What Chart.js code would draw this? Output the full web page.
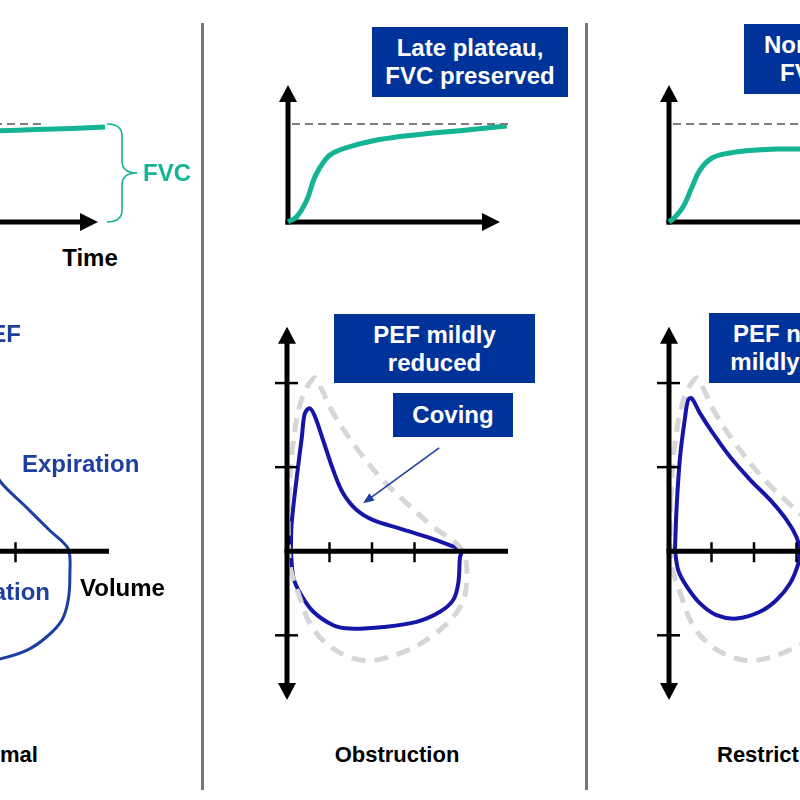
<!DOCTYPE html>
<html>
<head>
<meta charset="utf-8">
<title>Spirometry patterns</title>
<script src="https://cdn.jsdelivr.net/npm/chart.js@4.4.1/dist/chart.umd.min.js"></script>
<style>
  body { margin:0; width:800px; height:800px; overflow:hidden; position:relative; background:#fff;
         font-family:"Liberation Sans", Arial, sans-serif; }
  canvas { position:absolute; }
  .sep { position:absolute; top:23px; height:767px; width:3px; background:#777; }
  .lbl { position:absolute; font-weight:bold; font-size:24px; line-height:24px; white-space:nowrap; }
  .box { position:absolute; background:#003399; color:#fff; font-weight:bold; font-size:24px; line-height:28px;
         display:flex; align-items:center; justify-content:center; text-align:center; white-space:nowrap; }
</style>
</head>
<body>
<div class="sep" style="left:201px"></div>
<div class="sep" style="left:585px"></div>
<script>
// volume-time curves: time (s) and volume (L)
const normalTime = [0, 0.3, 0.6, 1.0, 1.5, 2.2, 3.2, 4.5, 5.7, 7.5, 9.3, 10.95];
const normalVol  = [0, 0.8, 2.2, 3.6, 4.2, 4.4, 4.48, 4.52, 4.56, 4.62, 4.68, 4.75];
const obstrTime  = [0, 0.44, 0.94, 1.35, 1.85, 2.25, 3.1, 4.44, 5.6, 7.25, 8.94, 10.94];
const obstrVol   = [0, 0.27, 1.1, 2.27, 3.1, 3.45, 3.77, 4.1, 4.27, 4.45, 4.6, 4.8];
const restrTime  = [0, 0.25, 0.7, 1.15, 1.55, 2.15, 3.05, 4.4, 5.55, 6.55, 8.5, 10.9];
const restrVol   = [0, 0.2, 0.75, 1.75, 2.6, 3.2, 3.45, 3.6, 3.65, 3.65, 3.68, 3.7];
const fvcRef = 4.9;   // predicted FVC (dashed line)

// flow-volume loops: volume (L) and flow (L/s, expiration positive)
const normalLoopVol  = [0, 0.15, 0.35, 0.6, 0.9, 1.5, 2.2, 2.64, 3.2, 3.8, 4.24, 4.28, 4.24, 4.09, 3.73, 3.26, 2.64, 2.0, 1.3, 0.7, 0.3, 0.08, 0];
const normalLoopFlow = [0, 0.8, 1.7, 2.3, 2.2, 1.8, 1.25, 0.83, 0.55, 0.25, 0.03, -0.27, -0.58, -0.82, -1.02, -1.18, -1.28, -1.32, -1.25, -1.0, -0.6, -0.25, 0];
const refLoopVol  = [0.04, 0.12, 0.34, 0.64, 0.78, 1.09, 1.56, 2.19, 2.82, 3.44, 3.99, 4.19, 4.23, 4.15, 3.91, 3.44, 2.82, 2.03, 1.48, 0.93, 0.54, 0.28, 0.08, 0.03, 0.04];
const refLoopFlow = [0.6, 1.2, 1.8, 2.06, 1.96, 1.64, 1.28, 0.88, 0.57, 0.29, 0.09, -0.07, -0.35, -0.58, -0.78, -1.0, -1.18, -1.3, -1.26, -1.1, -0.86, -0.52, -0.2, 0.2, 0.6];
const obstrLoopVol  = [0.09, 0.11, 0.23, 0.35, 0.42, 0.54, 0.66, 0.85, 1.09, 1.32, 1.64, 2.03, 2.66, 3.29, 3.84, 4.11, 4.07, 4.03, 3.91, 3.6, 3.05, 2.27, 1.48, 1.09, 0.62, 0.31, 0.15, 0.09];
const obstrLoopFlow = [0.01, 0.33, 0.88, 1.36, 1.64, 1.7, 1.6, 1.32, 0.96, 0.69, 0.49, 0.37, 0.27, 0.17, 0.07, 0.01, -0.07, -0.38, -0.58, -0.72, -0.84, -0.9, -0.92, -0.88, -0.72, -0.5, -0.31, 0.01];
const restrLoopVol  = [0.14, 0.18, 0.26, 0.38, 0.45, 0.53, 0.73, 1.04, 1.44, 1.91, 2.38, 2.77, 3.0, 3.08, 3.04, 2.85, 2.53, 2.14, 1.59, 1.12, 0.73, 0.42, 0.22, 0.14];
const restrLoopFlow = [0.01, 0.53, 1.12, 1.6, 1.8, 1.82, 1.64, 1.4, 1.12, 0.85, 0.61, 0.37, 0.17, 0.01, -0.15, -0.38, -0.58, -0.72, -0.8, -0.76, -0.62, -0.42, -0.23, 0.01];
const volTicks  = [1, 2, 3];
const flowTicks = [-1, 1, 2];

const GREEN = '#14b393', LOOP = '#1515a8', NBLUE = '#1a3fa0', REFGREY = '#d6d6d6';

function pts(xs, ys) { return xs.map((x, i) => ({ x: x, y: ys[i] })); }
function line(xs, ys, color, width, more) {
  return Object.assign({ data: pts(xs, ys), showLine: true, borderColor: color, borderWidth: width,
    pointRadius: 0, tension: 0.35, clip: false, fill: false }, more || {});
}

function arrowHead(ctx, x, y, dx, dy, len, half) {
  // tip at x,y pointing along dx,dy (unit)
  ctx.beginPath();
  ctx.moveTo(x, y);
  ctx.lineTo(x - dx * len - dy * half, y - dy * len + dx * half);
  ctx.lineTo(x - dx * len + dy * half, y - dy * len - dx * half);
  ctx.closePath();
  ctx.fill();
}

// axes with arrows through the origin, placed with the chart scales
function drawAxes(chart, o) {
  const ctx = chart.ctx, X = chart.scales.x, Y = chart.scales.y;
  const x0 = X.getPixelForValue(0), y0 = Y.getPixelForValue(0);
  ctx.save();
  ctx.strokeStyle = '#000'; ctx.fillStyle = '#000'; ctx.lineWidth = 5;
  const yTop = Y.getPixelForValue(o.yTo), yBot = Y.getPixelForValue(o.yFrom);
  const xEnd = X.getPixelForValue(o.xTo);
  ctx.beginPath();
  ctx.moveTo(x0, o.bothArrows ? yBot - 15 : y0 + 2.5);
  ctx.lineTo(x0, yTop + 15);
  ctx.stroke();
  arrowHead(ctx, x0, yTop, 0, -1, 17, 9);
  if (o.bothArrows) arrowHead(ctx, x0, yBot, 0, 1, 17, 9);
  ctx.beginPath();
  ctx.moveTo(x0 - 2.5, y0);
  ctx.lineTo(o.xArrow ? xEnd - 15 : xEnd, y0);
  ctx.stroke();
  if (o.xArrow) arrowHead(ctx, xEnd, y0, 1, 0, 18, 9);
  ctx.lineWidth = 2.5;
  (o.xTicks || []).forEach(v => {
    const p = X.getPixelForValue(v);
    ctx.beginPath(); ctx.moveTo(p, y0 - 9); ctx.lineTo(p, y0 + 11); ctx.stroke();
  });
  (o.yTicks || []).forEach(v => {
    const p = Y.getPixelForValue(v);
    ctx.beginPath(); ctx.moveTo(x0 - 12, p); ctx.lineTo(x0 + 11, p); ctx.stroke();
  });
  ctx.restore();
}

const axesPlugin = {
  id: 'axes',
  beforeDatasetsDraw(chart, args, o) {
    if (!o.onTop) drawAxes(chart, o);
  },
  afterDatasetsDraw(chart, args, o) {
    if (o.onTop) drawAxes(chart, o);
    if (o.extra) o.extra(chart);
  }
};

function makeChart(left, top, w, h, pad, xr, yr, datasets, axes) {
  const c = document.createElement('canvas');
  c.width = w; c.height = h;
  c.style.left = left + 'px'; c.style.top = top + 'px';
  document.body.appendChild(c);
  return new Chart(c, {
    type: 'scatter',
    data: { datasets: datasets },
    options: {
      responsive: false, animation: false, devicePixelRatio: 1,
      layout: { padding: pad },
      scales: {
        x: { type: 'linear', display: false, min: xr[0], max: xr[1] },
        y: { type: 'linear', display: false, min: yr[0], max: yr[1] }
      },
      plugins: { legend: { display: false }, tooltip: { enabled: false }, axes: axes }
    },
    plugins: [axesPlugin]
  });
}

// volume-time charts: 20 px per s, 20 px per L
const vtPad = { left: 12, right: 45, top: 12, bottom: 12 };
function vtChart(originX, time, vol, dashTo, extra) {
  makeChart(originX - 22, 222 - 149, 287, 171, vtPad, [-0.5, 11], [-0.5, 6.85], [
    line([0.2, dashTo], [fvcRef, fvcRef], '#7f7f7f', 2, { borderDash: [8, 5], tension: 0 }),
    line(time, vol, GREEN, 5, { tension: 0.4 })
  ], { yTo: 6.85, xTo: 10.6, xArrow: true, extra: extra });
}

function brace(chart) {
  const ctx = chart.ctx, X = chart.scales.x, Y = chart.scales.y;
  const x0 = X.getPixelForValue(11.05), x1 = X.getPixelForValue(12.55), xm = (x0 + x1) / 2;
  const yT = Y.getPixelForValue(fvcRef), yB = Y.getPixelForValue(0), yM = (yT + yB) / 2, r = 12;
  ctx.save();
  ctx.strokeStyle = GREEN; ctx.lineWidth = 1.6;
  ctx.beginPath();
  ctx.moveTo(x0, yT);
  ctx.quadraticCurveTo(xm, yT, xm, yT + r);
  ctx.lineTo(xm, yM - r);
  ctx.quadraticCurveTo(xm, yM, x1, yM);
  ctx.quadraticCurveTo(xm, yM, xm, yM + r);
  ctx.lineTo(xm, yB - r);
  ctx.quadraticCurveTo(xm, yB, x0, yB);
  ctx.stroke();
  ctx.restore();
}

function covingArrow(chart) {
  const ctx = chart.ctx, X = chart.scales.x, Y = chart.scales.y;
  const ax = X.getPixelForValue(3.58), ay = Y.getPixelForValue(1.23);
  const bx = X.getPixelForValue(1.79), by = Y.getPixelForValue(0.57);
  const d = Math.hypot(bx - ax, by - ay), ux = (bx - ax) / d, uy = (by - ay) / d;
  ctx.save();
  ctx.strokeStyle = NBLUE; ctx.fillStyle = NBLUE; ctx.lineWidth = 1.6;
  ctx.beginPath(); ctx.moveTo(ax, ay); ctx.lineTo(bx - ux * 8, by - uy * 8); ctx.stroke();
  arrowHead(ctx, bx, by, ux, uy, 11, 4.5);
  ctx.restore();
}

vtChart(-114, normalTime, normalVol, 7.8, brace);
vtChart(288, obstrTime, obstrVol, 11);
vtChart(669, restrTime, restrVol, 11);

// flow-volume charts: 42.5 px per L, ~84 px per L/s
const fvPad = 12;
function fvChart(originX, loops, extra) {
  makeChart(originX - 46, 551 - 243, 279, 415, fvPad, [-0.8, 5.2], [-1.9, 2.75], loops,
    { yFrom: -1.77, yTo: 2.67, xTo: 5.2, bothArrows: true, xTicks: volTicks, yTicks: flowTicks,
      onTop: true, extra: extra });
}

fvChart(-112, [line(normalLoopVol, normalLoopFlow, NBLUE, 3, { tension: 0.3 })]);
fvChart(287, [
  line(refLoopVol, refLoopFlow, REFGREY, 5, { borderDash: [14, 9] }),
  line(obstrLoopVol, obstrLoopFlow, LOOP, 4)
], covingArrow);
fvChart(669, [
  line(refLoopVol, refLoopFlow, REFGREY, 5, { borderDash: [14, 9] }),
  line(restrLoopVol, restrLoopFlow, LOOP, 4)
]);
</script>

<div class="lbl" style="left:143px;top:161px;color:#14b393">FVC</div>
<div class="lbl" style="left:90px;top:246px;transform:translateX(-50%)">Time</div>
<div class="lbl" style="right:779px;top:322px;color:#1f3f9f">PEF</div>
<div class="lbl" style="left:22px;top:452px;color:#1f3f9f">Expiration</div>
<div class="lbl" style="right:750px;top:580px;color:#1f3f9f">Inspiration</div>
<div class="lbl" style="left:80px;top:576px">Volume</div>
<div class="lbl" style="left:0px;top:744px;font-size:22px;line-height:22px;transform:translateX(-50%)">Normal</div>
<div class="lbl" style="left:397px;top:744px;font-size:22px;line-height:22px;transform:translateX(-50%)">Obstruction</div>
<div class="lbl" style="left:717px;top:744px;font-size:22px;line-height:22px">Restriction</div>

<div class="box" style="left:372px;top:27px;width:196px;height:70px">Late plateau,<br>FVC preserved</div>
<div class="box" style="left:744px;top:24px;width:220px;height:70px">Normal plateau,<br>FVC reduced</div>
<div class="box" style="left:334px;top:314px;width:201px;height:69px">PEF mildly<br>reduced</div>
<div class="box" style="left:393px;top:393px;width:120px;height:44px">Coving</div>
<div class="box" style="left:709px;top:313px;width:212px;height:70px">PEF normal or<br>mildly reduced</div>
</body>
</html>
